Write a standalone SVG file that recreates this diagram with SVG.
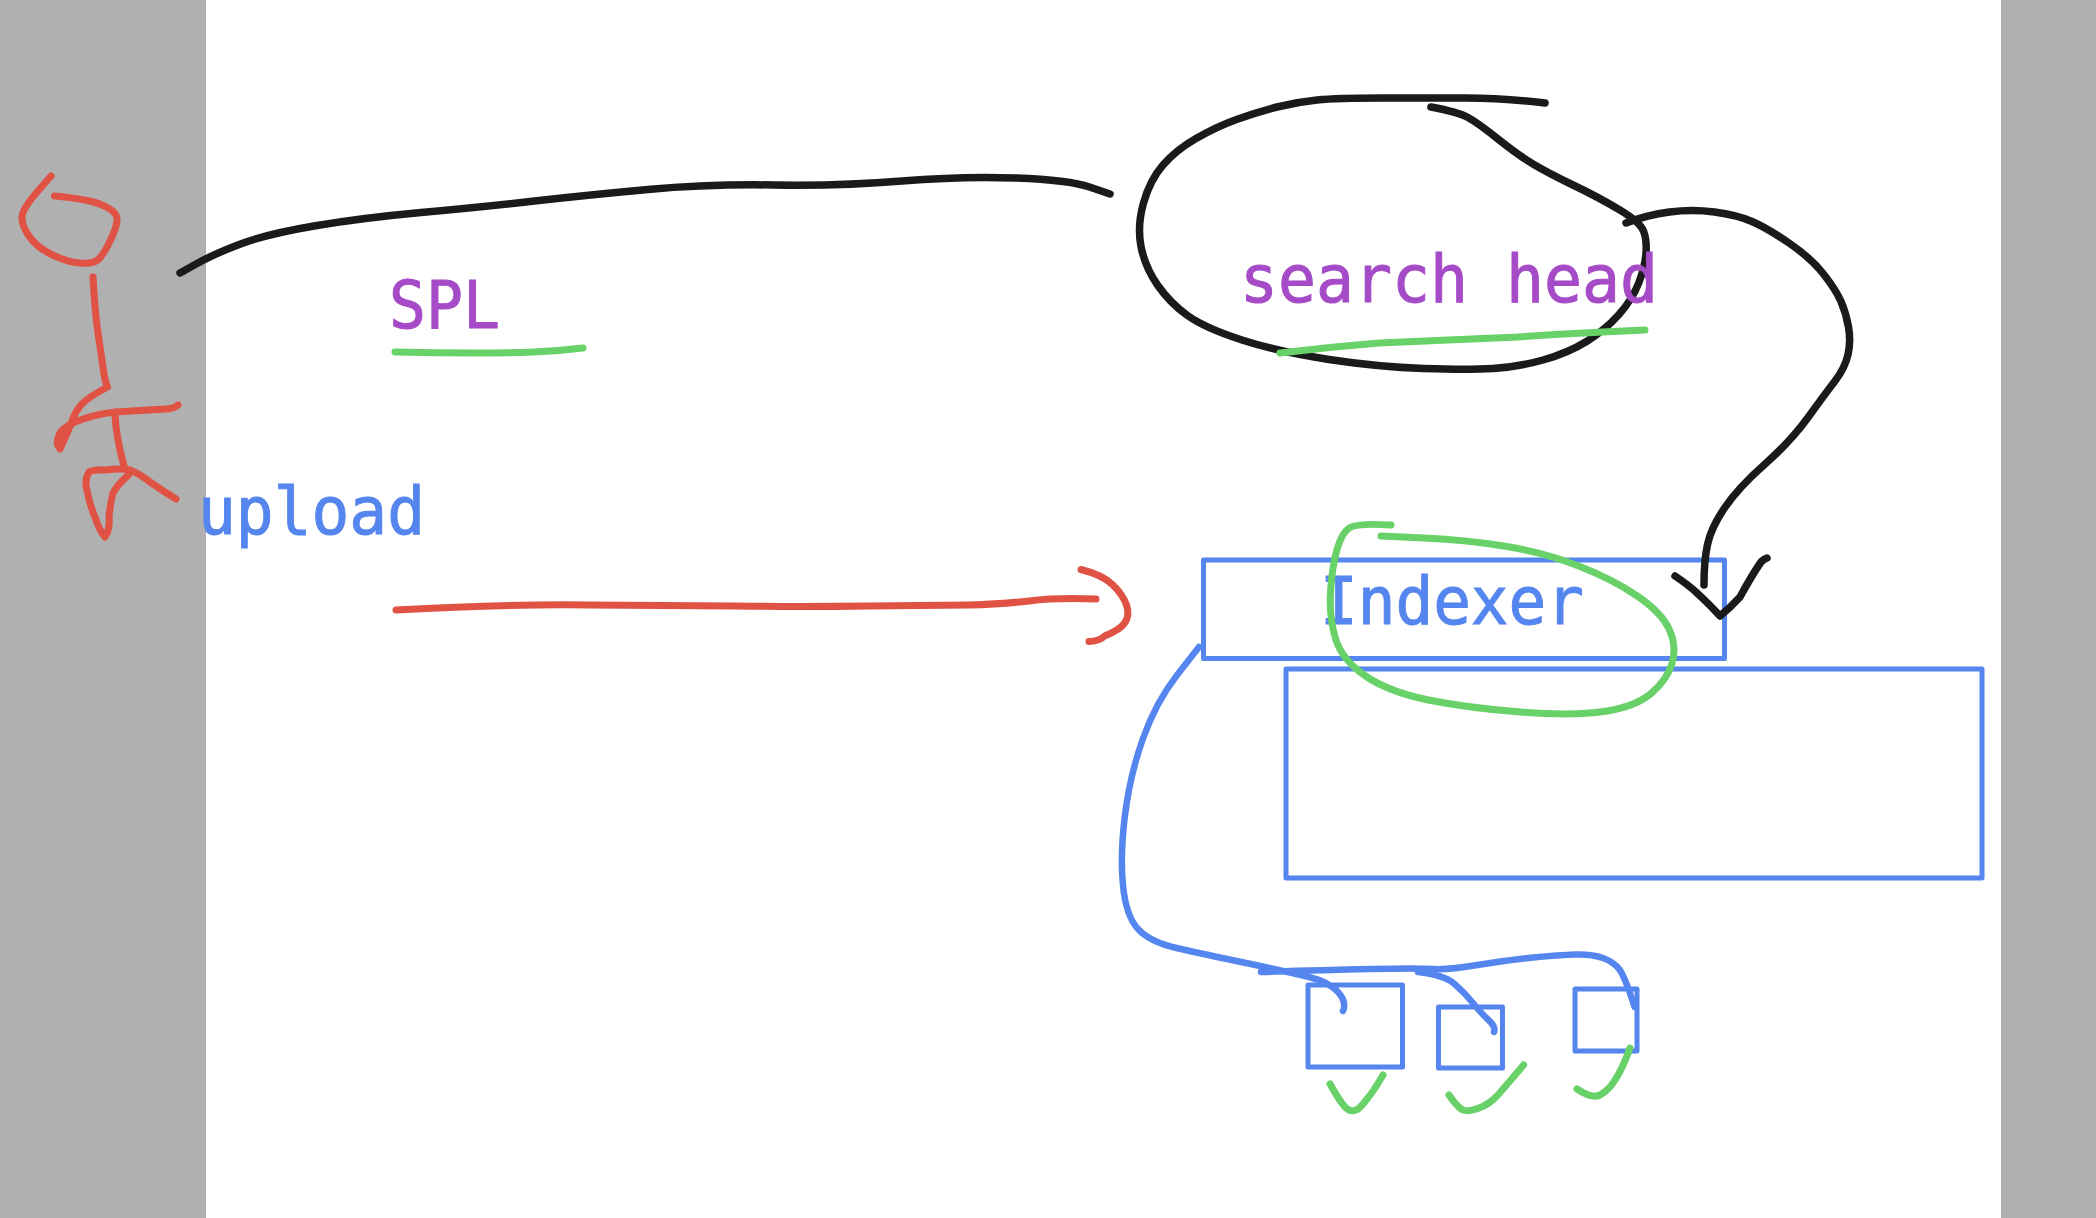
<svg xmlns="http://www.w3.org/2000/svg" width="2096" height="1218" viewBox="0 0 2096 1218">
<style>
.ink{fill:none;stroke-width:7;stroke-linecap:round;stroke-linejoin:round}
.k{stroke:#1a1a1a;stroke-width:7.5}.r{stroke:#e05244}.g{stroke:#68d168}.b{stroke:#5585ee;stroke-width:6.5}
.box{fill:none;stroke:#5585ee;stroke-width:5;stroke-linejoin:round}
.t{font-family:"DejaVu Sans Mono","Liberation Mono",monospace;font-size:66px;stroke-width:1}
.p{fill:#a64bc7;stroke:#a64bc7}.u{fill:#5585ee;stroke:#5585ee}
</style>
<rect width="2096" height="1218" fill="#ffffff"/>
<rect x="0" y="0" width="206" height="1218" fill="#b0b0b0"/>
<rect x="2001" y="0" width="95" height="1218" fill="#b0b0b0"/>
<g id="node-user">
<path class="ink r" d="M51 176L37.500 191.500Q24 207 22.250 215Q20.500 223 28.250 235Q36 247 51.500 254.500Q67 262 80 263Q93 264 98.250 259.500Q103.500 255 111 239Q118.600 223 116.600 216.500Q114.600 210 100.800 204.500Q87 199 54.500 196"/>
<path class="ink r" d="M93 277Q95 313 98 333Q101 353 103 367.500Q105 382 107.500 387Q87 398 81 405Q75 412 72 421Q69 430 60 449Q55 443 59 435Q62 428 75 422Q95 414 115 412L166 409Q173 409 178 405"/>
<path class="ink r" d="M115 415Q116 437 124.500 468"/>
<path class="ink r" d="M176 499Q163 491 150 482Q140 474 130 470Q118 468 107 470Q95 469 89 472Q84 480 87 490Q89 503 95 517Q99 530 105 537Q110 530 109 517Q110 505 113 493Q118 484 128.500 475"/>
</g>
<g id="node-indexer-box"><rect class="box" x="1203.500" y="560" width="521" height="98.500"/></g>
<g id="node-lower-box"><rect class="box" x="1286" y="669" width="696" height="209"/></g>
<g id="node-square-1"><rect class="box" x="1308" y="985" width="94.500" height="82"/></g>
<g id="node-square-2"><rect class="box" x="1438.500" y="1007" width="64" height="61"/></g>
<g id="node-square-3"><rect class="box" x="1575" y="989" width="62" height="62"/></g>
<g id="connectors">
<path class="ink k" d="M180 273L197 263.500Q214 254 240.500 244Q267 234 314 226Q361 218 421 212.500Q481 207 534.500 201Q588 195 648 189.500Q708 184 775 185Q842 186 902 181Q962 176 1015.500 178Q1069 180 1089.500 187L1110 194"/>
<path class="ink k" d="M1545 103Q1503 98 1465.500 98Q1428 98 1382.500 98Q1337 98 1317 100Q1297 102 1277 107Q1257 112 1236.500 119.500Q1216 127 1196 138.500Q1176 150 1163 165Q1150 180 1143.500 203Q1137 226 1141 246.500Q1145 267 1157.500 285Q1170 303 1187.500 315.500Q1205 328 1242 340Q1279 352 1329 359.500Q1379 367 1423.500 368.500Q1468 370 1493 368.500Q1518 367 1543 360Q1568 353 1586.500 341.500Q1605 330 1618.500 315Q1632 300 1638.500 283.500Q1645 267 1646 253.500Q1647 240 1643.500 231Q1640 222 1619 209.500Q1598 197 1573 185Q1548 173 1533 164Q1518 155 1498 139Q1478 123 1468 117.500Q1458 112 1431 107"/>
<path class="ink k" d="M1626 223Q1647 215 1669.500 212Q1692 209 1714.500 212Q1737 215 1752 221.500Q1767 228 1789 243Q1811 258 1823.500 274Q1836 290 1841 301.500Q1846 313 1848.500 327Q1851 341 1848 354.500Q1845 368 1835 381Q1825 394 1808 417.500Q1791 441 1764.500 464.500Q1738 488 1724.500 508Q1711 528 1707.500 544.500Q1704 561 1704 585"/>
<path class="ink k" d="M1675 576Q1690 586 1698 594Q1708 603 1720 616Q1730 608 1740 597Q1752 575 1761 562Q1764 559 1767 558"/>
<path class="ink r" d="M396 610Q508 604 588 605Q668 605.500 735 606Q802 607 869 606Q936 605.500 969 605Q1002 604 1029 601Q1056 597.500 1096 599"/>
<path class="ink r" d="M1081 569.500Q1103 575 1113 585Q1123 595 1126.500 605Q1130 615 1125 622.500Q1120 630 1104.500 636Q1100 641 1089 641.600"/>
<path class="ink b" d="M1199 647L1177.500 674.500Q1156 702 1143 738.500Q1130 775 1125 815Q1120 855 1123 885.500Q1126 916 1138 929Q1150 942 1176.500 948Q1203 954 1246 963Q1289 972 1309 977Q1329 982 1338 992Q1347 1002 1343 1011"/>
<path class="ink b" d="M1261 972Q1322 970 1370 969Q1418 968 1433 969Q1448 970 1477.500 965Q1507 960 1533 957.500Q1559 955 1575.500 954.500Q1592 954 1603 958Q1614 962 1619.500 969.500Q1625 977 1634.600 1007"/>
<path class="ink b" d="M1418 972Q1444 975 1454 983.500Q1464 992 1472.500 1002.500Q1481 1013 1488.500 1020Q1496 1027 1494 1032"/>
</g>
<g id="node-spl"><text class="t p" x="389" y="328" textLength="111" lengthAdjust="spacingAndGlyphs">SPL</text><path class="ink g" d="M395 352Q435 353 474 353Q505 353 534 352Q558 351 583 348"/></g>
<g id="node-upload"><text class="t u" x="198" y="534" textLength="227" lengthAdjust="spacingAndGlyphs">upload</text></g>
<g id="node-search-head"><text class="t p" x="1240" y="302" textLength="418" lengthAdjust="spacingAndGlyphs">search head</text><path class="ink g" d="M1280 353Q1330 347 1379 343Q1450 340 1518 337Q1560 334 1603 332L1645 330"/></g>
<g id="node-indexer"><text class="t u" x="1320" y="624" textLength="264" lengthAdjust="spacingAndGlyphs">Indexer</text><path class="ink g" d="M1391 525Q1358 523 1350 527.500Q1342 532 1337 549.500Q1332 567 1330.500 592Q1329 617 1335.500 638.500Q1342 660 1365.500 676Q1389 692 1428.500 700Q1468 708 1520.500 712Q1573 716 1604 711.500Q1635 707 1651 693.500Q1667 680 1672 663.500Q1677 647 1669.500 630Q1662 613 1638 596.500Q1614 580 1580 566.500Q1546 553 1507 546.500Q1468 540 1424 538L1381 536"/></g>
<g id="checks">
<path class="ink g" d="M1330 1084Q1340 1102 1346 1108Q1352 1113 1358 1109Q1363 1105 1367 1099Q1372 1093 1377 1085L1383 1075"/>
<path class="ink g" d="M1449 1095Q1457 1107 1463 1110Q1470 1112 1479 1108Q1488 1105 1497 1096Q1505 1087 1523.600 1065"/>
<path class="ink g" d="M1577 1089Q1592 1099 1600 1095Q1609 1090 1615 1080Q1622 1070 1630 1048"/>
</g>
</svg>
